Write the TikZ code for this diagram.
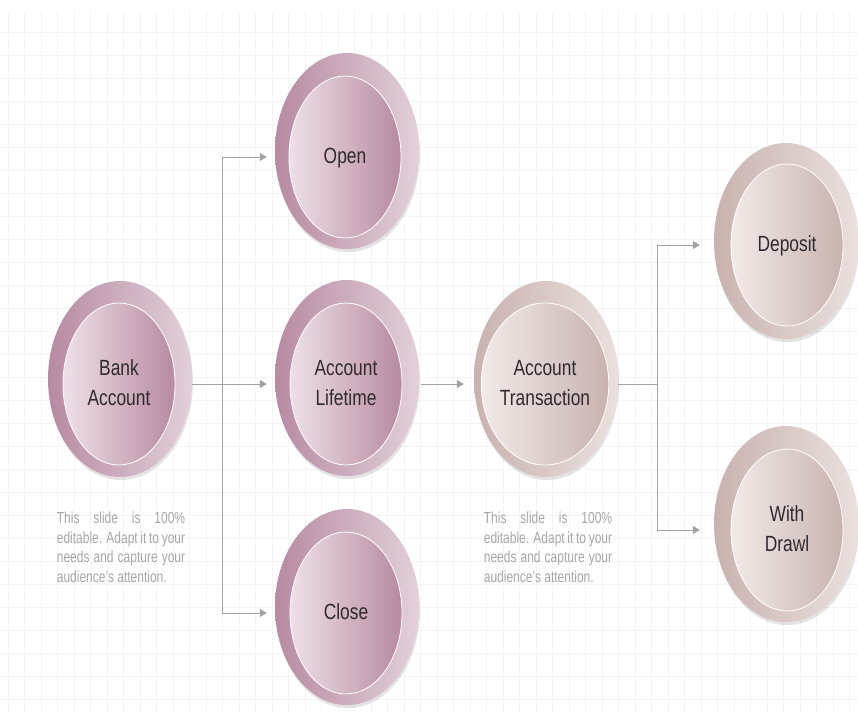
\documentclass[tikz,border=0pt]{standalone}
\usepackage{fontspec}
\setmainfont{Liberation Sans}
\usepackage{graphicx}
\usetikzlibrary{shapes.geometric,arrows.meta,shadows}

\definecolor{mauvedark}{HTML}{B78AA2}
\definecolor{mauvelight}{HTML}{E2D0DA}
\definecolor{mauvepale}{HTML}{EEE0E7}
\definecolor{taupedark}{HTML}{C8B2AF}
\definecolor{taupelight}{HTML}{EAE0DE}
\definecolor{taupepale}{HTML}{F2EAE8}
\definecolor{linkgray}{HTML}{A2A2A2}
\definecolor{labelgray}{HTML}{302A30}
\definecolor{notegray}{HTML}{A8A8A8}
\definecolor{gridgray}{HTML}{F4F4F4}

% condensed labels, as on the slide
\newcommand{\lbl}[1]{\scalebox{0.79}[1]{\fontsize{22}{30}\selectfont\begin{tabular}{@{}c@{}}#1\end{tabular}}}
\newcommand{\spread}[1]{\makebox[171pt][s]{#1}}
\newcommand{\blurb}{\scalebox{0.75}[1]{\fontsize{16}{19.5}\selectfont\begin{tabular}{@{}l@{}}
  \spread{This slide is 100\%}\\
  \spread{editable. Adapt it to your}\\
  \spread{needs and capture your}\\
  audience's attention.
\end{tabular}}}

\tikzset{
  ring/.style={ellipse, minimum width=144pt, minimum height=196pt, inner sep=0pt,
    drop shadow={shadow xshift=1pt, shadow yshift=-3pt, opacity=.18, fill=black!60}},
  disc/.style={ellipse, minimum width=112pt, minimum height=162pt, inner sep=0pt,
    draw=white, line width=.8pt, text=labelgray},
  mauve ring/.style={ring, left color=mauvedark, right color=mauvelight},
  mauve disc/.style={disc, left color=mauvepale, right color=mauvedark},
  taupe ring/.style={ring, left color=taupedark, right color=taupelight},
  taupe disc/.style={disc, left color=taupepale, right color=taupedark},
  note/.style={inner sep=0pt, text=notegray},
  link/.style={draw=linkgray, line width=1pt},
  arrow/.style={link, -{Triangle[length=7pt,width=8pt]}, shorten >=8pt},
  gridline/.style={draw=gridgray, line width=.5pt}
}

\begin{document}
\begin{tikzpicture}[x=1pt, y=-1pt]
\useasboundingbox (0,0) rectangle (858,713);
\fill[white] (0,0) rectangle (858,713);
% faint slide grid
\foreach \gx in {8,24.5,...,858}
  \draw[gridline] (\gx,12) -- (\gx,713);
\foreach \gy in {32,55,...,713}
  \draw[gridline] (0,\gy) -- (858,\gy);

% left group
\node[mauve ring] (bank) at (120,379) {};
\node[mauve disc] (bank-t) at (119,384) {\lbl{Bank\\Account}};
\node[mauve ring] (open) at (347,151) {};
\node[mauve disc] (open-t) at (345,157) {\lbl{Open}};
\node[mauve ring] (life) at (347,378) {};
\node[mauve disc] (life-t) at (346,384) {\lbl{Account\\Lifetime}};
\node[mauve ring] (close) at (347,607) {};
\node[mauve disc] (close-t) at (346,613) {\lbl{Close}};

% right group
\node[taupe ring] (trans) at (546,379) {};
\node[taupe disc] (trans-t) at (545,384) {\lbl{Account\\Transaction}};
\node[taupe ring] (depo) at (786,241) {};
\node[taupe disc] (depo-t) at (787,245) {\lbl{Deposit}};
\node[taupe ring] (draw) at (786,524) {};
\node[taupe disc] (draw-t) at (787,530) {\lbl{With\\Drawl}};

% notes
\node[note] (bank-note) at (121,549) {\blurb};
\node[note] (trans-note) at (548,549) {\blurb};

% connectors
\coordinate (fork-l) at (222,384);
\coordinate (fork-r) at (657,384);
\draw[link] (bank-t -| bank.east) -- (fork-l);
\draw[link] (fork-l |- open-t) -- (fork-l |- close-t);
\foreach \n in {open, life, close}
  \draw[arrow] (fork-l |- \n-t) -- (\n-t -| \n.west);
\draw[arrow, shorten <=2pt, shorten >=10pt] (life-t -| life.east) -- (trans-t -| trans.west);
\draw[link] (trans-t -| trans.east) -- (fork-r);
\draw[link] (fork-r |- depo-t) -- (fork-r |- draw-t);
\foreach \n in {depo, draw}
  \draw[arrow, shorten >=14pt] (fork-r |- \n-t) -- (\n-t -| \n.west);

\end{tikzpicture}
\end{document}
